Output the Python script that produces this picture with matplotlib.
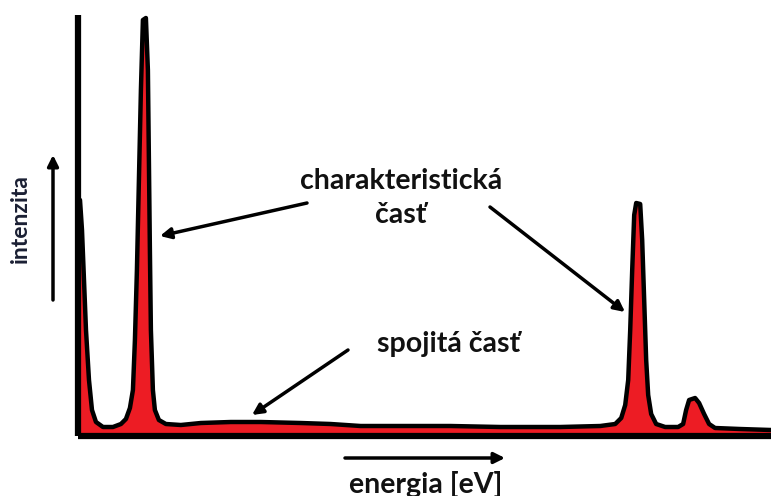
import matplotlib
matplotlib.use('Agg')
import matplotlib.pyplot as plt

plt.rcParams['font.family'] = ['Lato', 'DejaVu Sans']

# spectrum: channel number and counts
channel = [0, 2, 4, 6, 8, 11, 14, 18, 25, 35, 43, 48, 52, 55, 57, 59, 61, 63, 65, 68,
           70, 71, 72, 73, 75, 77, 81, 88, 103, 123, 153, 183, 223, 253, 283, 343,
           373, 423, 483, 523, 538, 544, 548, 551, 553, 555, 557, 559, 563, 565,
           567, 569, 571, 574, 579, 588, 601, 606, 609, 612, 618, 622, 627, 632,
           638, 663, 694]
counts = [236, 236, 206, 156, 106, 56, 26, 14, 9, 9, 12, 17, 28, 46, 96, 166, 256, 346, 416, 418,
          366, 276, 186, 106, 46, 26, 16, 12, 11, 13, 14, 14, 13, 12, 10, 10,
          10, 9, 9, 10, 12, 18, 31, 56, 106, 166, 221, 233, 232, 196,
          136, 76, 41, 22, 12, 9, 9, 12, 26, 36, 38, 33, 22, 12,
          8, 7, 6]

W, H = 771, 496


def fig_xy(px, py):
    # pixel position (from top left) -> figure fraction
    return px / W, 1 - py / H


fig = plt.figure(figsize=(W / 100, H / 100), dpi=100)
ax = fig.add_axes([78 / W, 60 / H, 693 / W, 421 / H])

ax.fill_between(channel, 0, counts, color='#ED1C24', lw=0)
ax.plot(channel, counts, color='black', lw=3.2, solid_joinstyle='round')

ax.set_xlim(0, 694)
ax.set_ylim(0, 421)
ax.set_xticks([])
ax.set_yticks([])
for s in ['top', 'right']:
    ax.spines[s].set_visible(False)
for s in ['left', 'bottom']:
    ax.spines[s].set_linewidth(4.5)
    ax.spines[s].set_capstyle('butt')

arrow = dict(arrowstyle='-|>', color='black', lw=2.5, mutation_scale=16,
             shrinkA=0, shrinkB=0)

# axis arrows
fig.add_artist(plt.Annotation('', xy=fig_xy(53, 155), xytext=fig_xy(53, 300),
                              xycoords='figure fraction', arrowprops=arrow))
fig.add_artist(plt.Annotation('', xy=fig_xy(505, 458), xytext=fig_xy(345, 458),
                              xycoords='figure fraction', arrowprops=arrow))

# pointer arrows
for start, end in [((307, 203), (160, 236)),
                   ((490, 207), (625, 312)),
                   ((348, 350), (252, 415))]:
    fig.add_artist(plt.Annotation('', xy=fig_xy(*end), xytext=fig_xy(*start),
                                  xycoords='figure fraction', arrowprops=arrow))

txt = dict(fontsize=20.5, fontweight='bold', color='#111111', ha='center', va='center')
fig.text(*fig_xy(401, 181), 'charakteristická', **txt)
fig.text(*fig_xy(401, 215), 'časť', **txt)
fig.text(*fig_xy(449, 344), 'spojitá časť', **txt)
fig.text(*fig_xy(426, 484), 'energia [eV]', **txt)
fig.text(*fig_xy(20, 219), 'intenzita', rotation=90, fontsize=16.5, fontweight='bold',
         color='#1a1f33', ha='center', va='center')

fig.savefig('out.png', dpi=100)
